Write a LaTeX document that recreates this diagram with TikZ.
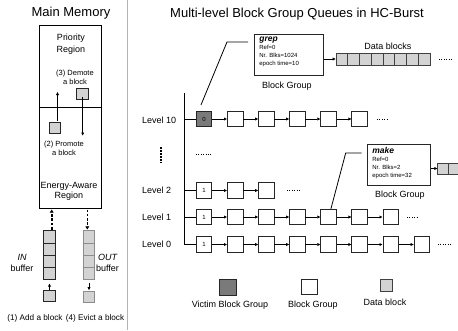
\documentclass[tikz,border=0pt]{standalone}
\usepackage{fontspec}
\setmainfont{Liberation Sans}
\usetikzlibrary{arrows.meta}
\definecolor{vicgray}{HTML}{7A7A7A}
\definecolor{dbgray}{HTML}{D3D3D3}
\definecolor{divgray}{HTML}{B4B4B4}
\begin{document}
\begin{tikzpicture}[x=1pt,y=-1pt,
  every node/.style={inner sep=0pt},
  ttl/.style={font=\fontsize{13}{14}\selectfont},
  lbl/.style={font=\fontsize{9}{11}\selectfont, align=center},
  sml/.style={font=\fontsize{8}{9}\selectfont, align=center},
  bgbox/.style={draw=black!85, line width=0.7pt, fill=white, minimum size=15.5pt, font=\fontsize{6}{6}\selectfont},
  victim/.style={bgbox, fill=vicgray},
  dcell/.style={draw=black!75, line width=0.6pt, fill=dbgray, minimum width=11.75pt, minimum height=12pt},
  mcell/.style={draw=black!85, line width=0.7pt, fill=dbgray, minimum width=11.7pt, minimum height=12.15pt},
  ocell/.style={mcell, draw=black!45},
  link/.style={line width=0.7pt, -{Triangle[length=3pt,width=2.8pt]}},
  dotsline/.style={line width=0.9pt, dash pattern=on 1pt off 1.4pt},
  infobox/.style={draw=black!85, line width=0.8pt, fill=white, inner xsep=5pt, inner ysep=3pt, anchor=north west},
  dasharrow/.style={line width=1.6pt, dash pattern=on 2.5pt off 1.8pt, -{Triangle[length=3.2pt,width=3.8pt]}},
]
\useasboundingbox (0,0) rectangle (458,330);
\fill[white] (0,0) rectangle (458,330);
\draw[divgray, line width=1.5pt] (127.5,0) -- (127.5,330);

% ---------- left panel ----------
\node[ttl] (mmtitle) at (71,13) {Main Memory};
\node[draw=black, line width=0.9pt, minimum width=62.4pt, minimum height=183pt] (mem) at (70.5,116.5) {};
\coordinate (splitL) at (39.3,107.7);
\coordinate (splitR) at (101.7,107.7);
\draw[line width=1.1pt] (splitL) -- (splitR);
\node[lbl, font=\fontsize{9}{11.5}\selectfont] (prio) at (71,44) {Priority\\Region};
\node[sml, font=\fontsize{7.5}{9}\selectfont] (demt) at (75,77.5) {(3) Demote\\a block};
\node[mcell, minimum width=11.5pt, minimum height=11.5pt] (dem) at (82.5,94) {};
\node[mcell, minimum width=11.5pt, minimum height=11pt] (pro) at (55,128) {};
\node[sml, font=\fontsize{7.5}{9}\selectfont] (prot) at (64,148) {(2) Promote\\a block};
\coordinate (upS) at (57.5,121);
\coordinate (upE) at (57.5,92);
\draw[link] (upS) -- (upE);
\coordinate (dnE) at (82.7,135.5);
\draw[link] (dem.south -| dnE) ++(0,3pt) -- (dnE);
\node[lbl, font=\fontsize{9}{10}\selectfont] (ener) at (69,191.5) {Energy-Aware\\Region};

% buffers
\foreach \k in {1,...,4}{
  \node[mcell] (in\k) at (49.2,{224.625+12.15*\k}) {};
  \node[ocell] (out\k) at (88.8,{224.625+12.15*\k}) {};
}
\coordinate (inTop) at (51.7,229.5);
\coordinate (inBot) at (51.7,209.5);
\draw[dasharrow] (inTop) -- (inBot);
\coordinate (outTop) at (87.3,209.5);
\coordinate (outBot) at (87.3,229.5);
\draw[dasharrow] (outTop) -- (outBot);
\node[mcell, minimum width=11.5pt, minimum height=11pt] (inadd) at (49.5,296.2) {};
\node[ocell, minimum width=11.5pt, minimum height=11pt] (outev) at (89,296.5) {};
\draw[link, shorten >=4pt] (inadd.north) -- (inadd.north |- in4.south);
\draw[link, shorten <=3pt, shorten >=0.5pt] (outev.north |- out4.south) -- (outev.north);
\node[lbl] (inl) at (22,263) {\itshape IN\\buffer};
\node[lbl] (outl) at (107.5,263) {\itshape OUT\\\upshape buffer};
\node[sml, font=\fontsize{8.2}{9}\selectfont] (addl) at (35,318) {(1) Add a block};
\node[sml, font=\fontsize{8.2}{9}\selectfont] (evl) at (95,318) {(4) Evict a block};

% ---------- right panel ----------
\node[ttl] (qtitle) at (297,14) {Multi-level Block Group Queues in HC-Burst};

\node[lbl, anchor=west] (L10) at (142,120) {Level 10};
\node[lbl, anchor=west] (L2) at (142,190.5) {Level 2};
\node[lbl, anchor=west] (L1) at (142,217) {Level 1};
\node[lbl, anchor=west] (L0) at (142,244.5) {Level 0};

% rows
\node[victim] (r10c0) at (204,119) {0};
\foreach \k in {1,...,5} \node[bgbox] (r10c\k) at ({204+31.1*\k},119) {};
\node[bgbox] (r2c0) at (204,190.5) {1};
\foreach \k in {1,2} \node[bgbox] (r2c\k) at ({204+31.1*\k},190.5) {};
\node[bgbox] (r1c0) at (204,217) {1};
\foreach \k in {1,...,6} \node[bgbox] (r1c\k) at ({204+31.1*\k},217) {};
\node[bgbox] (r0c0) at (204,244.5) {1};
\foreach \k in {1,...,7} \node[bgbox] (r0c\k) at ({204+31.1*\k},244.5) {};

\foreach \k [evaluate=\k as \p using int(\k-1)] in {1,...,5} \draw[link] (r10c\p) -- (r10c\k);
\foreach \k [evaluate=\k as \p using int(\k-1)] in {1,2} \draw[link] (r2c\p) -- (r2c\k);
\foreach \k [evaluate=\k as \p using int(\k-1)] in {1,...,6} \draw[link] (r1c\p) -- (r1c\k);
\foreach \k [evaluate=\k as \p using int(\k-1)] in {1,...,7} \draw[link] (r0c\p) -- (r0c\k);

% axis
\coordinate (axTop) at (184,93);
\draw[line width=0.9pt] (axTop) |- (r0c0.west);
\draw[line width=0.8pt] (r10c0.west) -- (r10c0.west -| axTop);
\draw[line width=0.8pt] (r2c0.west) -- (r2c0.west -| axTop);
\draw[line width=0.8pt] (r1c0.west) -- (r1c0.west -| axTop);

% dots
\coordinate (d10a) at (377,119); \coordinate (d10b) at (388,119);
\coordinate (d2a) at (287,190.5); \coordinate (d2b) at (301,190.5);
\coordinate (d1a) at (407,217); \coordinate (d1b) at (418,217);
\coordinate (d0a) at (438,244.5); \coordinate (d0b) at (451,244.5);
\coordinate (dma) at (196,154); \coordinate (dmb) at (211,154);
\coordinate (dda) at (439,59); \coordinate (ddb) at (453,59);
\foreach \a/\b in {d10a/d10b,d2a/d2b,d1a/d1b,d0a/d0b,dma/dmb,dda/ddb} \draw[dotsline] (\a) -- (\b);
\coordinate (vda) at (160.7,147); \coordinate (vdb) at (160.7,163);
\draw[line width=1.8pt, dash pattern=on 1.6pt off 1.4pt] (vda) -- (vdb);

% grep info box
\node[infobox] (grep) at (254,34) {\parbox[t][35pt][t]{59pt}{\fontsize{6}{7.7}\selectfont{\fontsize{8.5}{8}\selectfont\bfseries\itshape grep}\\Ref=0\\Nr. Blks=1024\\epoch time=10}};
\node[lbl] (grepbg) at (287,86) {Block Group};
\coordinate (gbend) at (227,42);
\draw[line width=0.8pt] ([xshift=-3pt,yshift=6pt]r10c0.north) -- (gbend) -- ([xshift=-6pt,yshift=-8pt]grep.north west);

\foreach \k in {1,...,8} \node[dcell] (db\k) at ({336+11.75*(\k-0.5)},59) {};
\node[lbl] (dbl) at (388,46) {Data blocks};
\draw[link] (grep.east |- db1.west) -- (db1.west);

% make info box
\node[infobox] (make) at (367,144) {\parbox[t][35pt][t]{53pt}{\fontsize{6}{7.9}\selectfont{\fontsize{8.5}{8}\selectfont\bfseries\itshape make}\\Ref=0\\Nr. Blks=2\\epoch time=32}};
\node[lbl] (makebg) at (400,195) {Block Group};
\coordinate (mbend) at (345.7,153);
\draw[line width=0.8pt] ([xshift=2.5pt]r1c4.north) -- (mbend) -- ([xshift=-5.5pt,yshift=-9pt]make.north west);
\foreach \k in {1,2} \node[dcell, minimum height=11pt] (mdb\k) at ({438+11*(\k-0.5)},168.5) {};
\draw[link] (make.east |- mdb1.west) -- (mdb1.west);

% legend
\node[victim, minimum width=17pt, minimum height=16pt] (legv) at (227.5,287) {};
\node[lbl] (legvl) at (230,305) {Victim Block Group};
\node[bgbox, minimum size=15.5pt] (legb) at (309.5,287) {};
\node[lbl] (legbl) at (313,305) {Block Group};
\node[dcell, minimum width=12pt, minimum height=12pt] (legd) at (386,285) {};
\node[lbl] (legdl) at (385,302.5) {Data block};
\end{tikzpicture}
\end{document}
